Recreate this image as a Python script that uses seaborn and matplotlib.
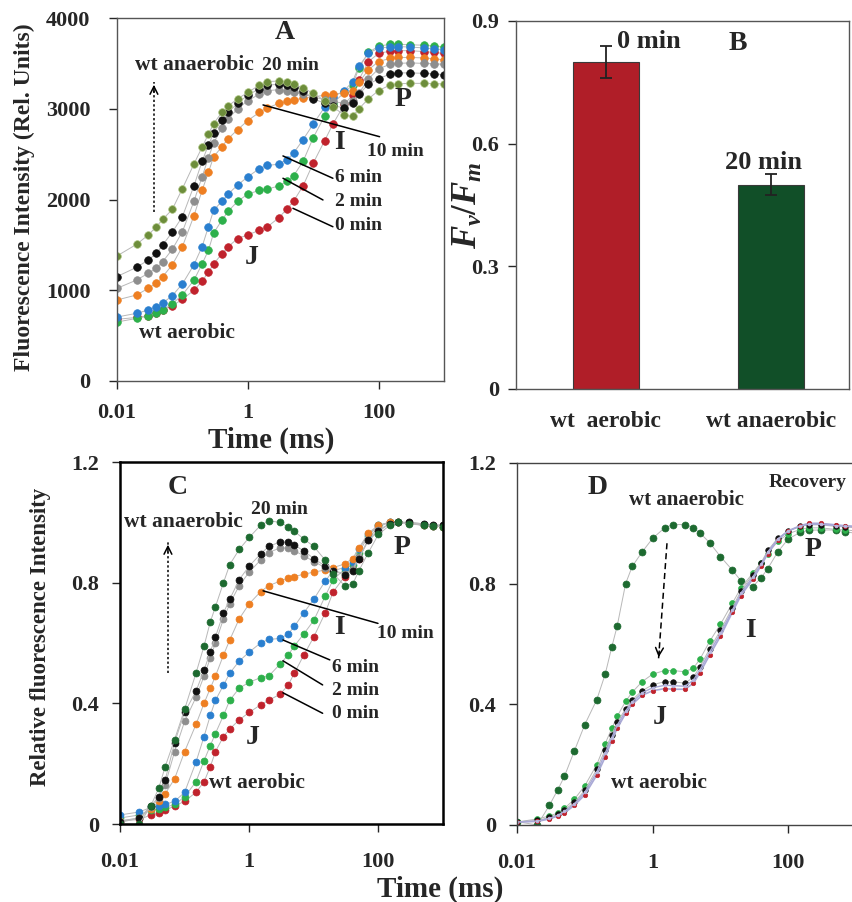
import matplotlib
matplotlib.use('Agg')
import matplotlib.pyplot as plt
import seaborn as sns

sns.set_style('ticks')
plt.rcParams['font.family'] = ['Liberation Serif', 'DejaVu Serif']
plt.rcParams['font.weight'] = 'bold'
plt.rcParams['mathtext.fontset'] = 'custom'
plt.rcParams['mathtext.it'] = 'Liberation Serif:italic:bold'
plt.rcParams['mathtext.rm'] = 'Liberation Serif:bold'

# time points (ms)
time_ms = [0.01, 0.02, 0.03, 0.04, 0.05, 0.07, 0.1, 0.15, 0.2, 0.25, 0.3, 0.4, 0.5, 0.7,
           1, 1.5, 2, 3, 4, 5, 7, 10, 15, 20, 30, 40, 50, 70, 100, 150, 200, 300, 500, 700, 1000]

# panel A - raw fluorescence (rel. units)
a_olive = [1378, 1507, 1609, 1700, 1782, 1890, 2120, 2390, 2577, 2720, 2834, 2960, 3030, 3110, 3180, 3260,
           3300, 3305, 3290, 3270, 3230, 3170, 3090, 3020, 2930, 2915, 3000, 3110, 3200, 3262, 3275, 3280,
           3280, 3278, 3272]
a_black = [1151, 1253, 1333, 1407, 1499, 1640, 1811, 2150, 2420, 2600, 2730, 2880, 2960, 3060, 3150, 3220,
           3260, 3270, 3260, 3240, 3200, 3110, 3060, 3035, 3008, 3060, 3160, 3270, 3330, 3383, 3395, 3395,
           3390, 3385, 3375]
a_gray = [1021, 1113, 1187, 1242, 1315, 1450, 1645, 1980, 2250, 2460, 2620, 2790, 2890, 3000, 3090, 3160,
          3200, 3210, 3200, 3185, 3160, 3130, 3100, 3080, 3060, 3080, 3170, 3330, 3440, 3490, 3500, 3505,
          3500, 3495, 3490]
a_orange = [893, 948, 1021, 1077, 1150, 1280, 1480, 1820, 2100, 2300, 2470, 2580, 2670, 2770, 2870, 2960,
            3010, 3060, 3080, 3100, 3115, 3130, 3150, 3160, 3175, 3200, 3290, 3430, 3520, 3555, 3565, 3565,
            3560, 3550, 3540]
a_blue = [705, 746, 782, 819, 860, 940, 1070, 1280, 1480, 1700, 1880, 1980, 2060, 2160, 2250, 2340,
          2375, 2390, 2440, 2510, 2660, 2830, 3020, 3130, 3200, 3300, 3470, 3610, 3670, 3680, 3685, 3680,
          3670, 3660, 3650]
a_green = [650, 690, 715, 750, 780, 850, 950, 1110, 1290, 1440, 1630, 1770, 1870, 1980, 2060, 2100,
           2115, 2150, 2200, 2260, 2420, 2680, 2920, 3060, 3180, 3260, 3450, 3620, 3690, 3710, 3710, 3705,
           3700, 3690, 3680]
a_red = [680, 700, 720, 750, 780, 830, 900, 1000, 1100, 1200, 1290, 1400, 1480, 1570, 1610, 1660,
         1700, 1800, 1900, 1980, 2150, 2400, 2650, 2830, 3050, 3150, 3320, 3520, 3610, 3635, 3640, 3640,
         3630, 3620, 3610]

# panel B - Fv/Fm
conditions = ['wt  aerobic', 'wt anaerobic']
fvfm = [0.80, 0.50]
fvfm_err = [0.04, 0.026]

# panel C - normalised transients
c_dkgreen = [0.0, 0.0, 0.06, 0.12, 0.19, 0.28, 0.38, 0.50, 0.59, 0.67, 0.72, 0.80, 0.86, 0.91, 0.95, 0.99,
             1.005, 1.0, 0.985, 0.97, 0.945, 0.92, 0.875, 0.83, 0.79, 0.795, 0.84, 0.90, 0.96, 0.99, 1.0,
             0.995, 0.99, 0.988, 0.985]
c_black = [0.005, 0.02, 0.06, 0.09, 0.145, 0.27, 0.37, 0.44, 0.51, 0.57, 0.62, 0.70, 0.745, 0.81, 0.855,
           0.895, 0.92, 0.935, 0.935, 0.925, 0.905, 0.88, 0.855, 0.84, 0.825, 0.84, 0.88, 0.94, 0.97, 0.995,
           1.0, 1.0, 0.995, 0.992, 0.99]
c_gray = [0.01, 0.02, 0.055, 0.085, 0.13, 0.24, 0.34, 0.42, 0.49, 0.55, 0.60, 0.68, 0.73, 0.79, 0.835,
          0.875, 0.90, 0.915, 0.915, 0.905, 0.89, 0.87, 0.85, 0.84, 0.83, 0.845, 0.885, 0.94, 0.975, 0.995,
          1.0, 1.0, 0.995, 0.992, 0.99]
c_orange = [0.01, 0.02, 0.05, 0.075, 0.10, 0.15, 0.24, 0.33, 0.40, 0.45, 0.49, 0.56, 0.61, 0.68, 0.73,
            0.77, 0.79, 0.805, 0.815, 0.82, 0.828, 0.835, 0.842, 0.85, 0.862, 0.88, 0.915, 0.965, 0.99, 1.0,
            1.0, 0.998, 0.99, 0.988, 0.985]
c_blue = [0.03, 0.04, 0.055, 0.06, 0.065, 0.075, 0.105, 0.205, 0.29, 0.36, 0.41, 0.46, 0.50, 0.54, 0.57,
          0.60, 0.612, 0.615, 0.63, 0.655, 0.70, 0.745, 0.805, 0.84, 0.85, 0.87, 0.91, 0.96, 0.99, 1.0, 1.0,
          0.998, 0.99, 0.988, 0.985]
c_green = [0.02, 0.03, 0.045, 0.05, 0.055, 0.065, 0.09, 0.14, 0.21, 0.26, 0.30, 0.36, 0.41, 0.45, 0.47,
           0.485, 0.49, 0.53, 0.56, 0.59, 0.63, 0.675, 0.755, 0.81, 0.845, 0.86, 0.90, 0.955, 0.99, 1.0, 1.0,
           0.998, 0.99, 0.988, 0.985]
c_red = [0.01, 0.015, 0.03, 0.035, 0.045, 0.06, 0.075, 0.105, 0.14, 0.19, 0.24, 0.29, 0.315, 0.345, 0.37,
         0.395, 0.41, 0.43, 0.46, 0.50, 0.56, 0.62, 0.70, 0.77, 0.82, 0.845, 0.88, 0.945, 0.985, 1.0, 1.0,
         0.998, 0.99, 0.988, 0.985]

# panel D - recovery
d_dkgreen = [0.011, 0.0, 0.065, 0.117, 0.161, 0.245, 0.333, 0.415, 0.50, 0.59, 0.659, 0.80, 0.857, 0.905,
             0.95, 0.985, 0.996, 0.996, 0.985, 0.968, 0.935, 0.89, 0.845, 0.81, 0.79, 0.82, 0.85, 0.905,
             0.948, 0.97, 0.977, 0.978, 0.978, 0.972, 0.967]
d_green = [0.01, 0.02, 0.03, 0.04, 0.055, 0.085, 0.13, 0.20, 0.27, 0.32, 0.36, 0.41, 0.44, 0.475, 0.50,
           0.512, 0.512, 0.508, 0.52, 0.55, 0.61, 0.665, 0.735, 0.785, 0.835, 0.87, 0.90, 0.94, 0.965, 0.98,
           0.985, 0.985, 0.98, 0.978, 0.975]
d_black = [0.01, 0.015, 0.025, 0.035, 0.05, 0.075, 0.115, 0.185, 0.25, 0.30, 0.34, 0.385, 0.415, 0.445,
           0.465, 0.475, 0.475, 0.47, 0.49, 0.525, 0.585, 0.645, 0.72, 0.775, 0.83, 0.87, 0.91, 0.95, 0.975,
           0.99, 0.995, 0.995, 0.99, 0.988, 0.985]
d_lav = [0.01, 0.013, 0.022, 0.032, 0.045, 0.07, 0.108, 0.175, 0.238, 0.29, 0.33, 0.378, 0.408, 0.438,
         0.455, 0.463, 0.462, 0.46, 0.48, 0.515, 0.575, 0.635, 0.712, 0.768, 0.822, 0.865, 0.905, 0.948,
         0.975, 0.99, 0.997, 0.997, 0.992, 0.99, 0.988]
d_red = [0.01, 0.012, 0.02, 0.03, 0.04, 0.065, 0.10, 0.165, 0.225, 0.28, 0.32, 0.37, 0.40, 0.43, 0.445,
         0.452, 0.45, 0.45, 0.47, 0.505, 0.565, 0.625, 0.705, 0.76, 0.815, 0.86, 0.90, 0.945, 0.975, 0.992,
         1.0, 1.0, 0.995, 0.992, 0.99]

OLIVE, BLACK, GRAY, ORANGE = '#6d8d3b', '#111111', '#8e8e8e', '#ee7f22'
BLUE, GREEN, RED, DKGREEN = '#2a7fcf', '#2db04b', '#c0222c', '#1d6a30'


def curve(ax, y, col, ms=5.5, edge=None, line='#b8b8b8', lw=0.7):
    sns.lineplot(x=time_ms, y=y, ax=ax, color=line, linewidth=lw, marker='o', markersize=ms,
                 markerfacecolor=col, markeredgecolor=edge or col, markeredgewidth=0.5)


def log_axis(ax, ymax, yticks, ylabels, ypad, xpad=14):
    ax.set_xscale('log')
    ax.set_xlim(0.01, 1000)
    ax.set_ylim(0, ymax)
    ax.set_xticks([0.01, 1, 100])
    ax.set_xticklabels(['0.01', '1', '100'])
    ax.minorticks_off()
    ax.set_yticks(yticks)
    ax.set_yticklabels(ylabels)
    ax.tick_params(axis='x', direction='out', length=6, width=1, labelsize=16, pad=xpad)
    ax.tick_params(axis='y', direction='out', length=6, width=1, labelsize=16, pad=ypad)
    ax.set_xlabel('')
    ax.set_ylabel('')


def leader(ax, p0, p1):
    ax.plot([p0[0], p1[0]], [p0[1], p1[1]], color='k', lw=1.1)


def dotted_arrow(ax, x0, y0, x1, y1, ls=(0, (1.5, 1.5))):
    ax.plot([x0, x1], [y0, y1], color='k', lw=1.1, ls=ls)
    ax.annotate('', xy=(x1, y1), xytext=(x0 + (x1 - x0) * 0.9, y0 + (y1 - y0) * 0.9),
                arrowprops=dict(arrowstyle='->', color='k', lw=1.1, mutation_scale=14))


fig = plt.figure(figsize=(8.52, 9.02), dpi=100)

# ---------------- A ----------------
ax = fig.add_axes([117 / 852, 1 - 381 / 902, 327 / 852, 363 / 902])
for y, c in [(a_red, RED), (a_green, GREEN), (a_blue, BLUE), (a_orange, ORANGE),
             (a_gray, GRAY), (a_black, BLACK)]:
    curve(ax, y, c)
curve(ax, a_olive, OLIVE, edge='#a9c27c')
log_axis(ax, 4000, [0, 1000, 2000, 3000, 4000], ['0', '1000', '2000', '3000', '4000'], 13, xpad=10)
for s in ax.spines.values():
    s.set_color('#555555')
    s.set_linewidth(1.0)
ax.text(3.67, 3835, 'A', fontsize=20, ha='center', va='center')
ax.text(0.019, 3480, 'wt anaerobic', fontsize=15.5, ha='left', va='center')
ax.text(1.63, 3480, '20 min', fontsize=14, ha='left', va='center')
ax.text(0.117, 529, 'wt aerobic', fontsize=15.5, ha='center', va='center')
ax.text(1.15, 1366, 'J', fontsize=20, ha='center', va='center')
ax.text(25.2, 2623, 'I', fontsize=20, ha='center', va='center')
ax.text(232, 3097, 'P', fontsize=20, ha='center', va='center')
leader(ax, (1.71, 3042), (103.5, 2692))
ax.text(66, 2524, '10 min', fontsize=14, ha='left', va='center')
leader(ax, (3.45, 2480), (20.0, 2234))
ax.text(21.4, 2237, '6 min', fontsize=14, ha='left', va='center')
leader(ax, (3.45, 2234), (14.1, 1995))
ax.text(21.4, 1973, '2 min', fontsize=14, ha='left', va='center')
leader(ax, (4.9, 1903), (20.0, 1700))
ax.text(21.4, 1708, '0 min', fontsize=14, ha='left', va='center')
dotted_arrow(ax, 0.0367, 1862, 0.0367, 3295)
fig.text(24 / 852, 1 - 197 / 902, 'Fluorescence Intensity (Rel. Units)', rotation=90,
         fontsize=17, ha='center', va='center')
fig.text(271 / 852, 1 - 440 / 902, 'Time (ms)', fontsize=21, ha='center', va='center')

# ---------------- B ----------------
ax = fig.add_axes([516 / 852, 1 - 389 / 902, 333 / 852, 368 / 902])
sns.barplot(x=conditions, y=fvfm, hue=conditions, palette=['#b01e28', '#114f28'], legend=False,
            width=0.4, edgecolor='#3a3a3a', linewidth=0.8, errorbar=None, saturation=1, ax=ax)
ax.errorbar([0, 1], fvfm, yerr=fvfm_err, fmt='none', ecolor='#222222', elinewidth=1.3,
            capsize=4, capthick=1.3)
ax.set_xlim(-0.545, 1.473)
ax.set_ylim(0, 0.9)
ax.set_yticks([0, 0.3, 0.6, 0.9])
ax.set_yticklabels(['0', '0.3', '0.6', '0.9'])
ax.tick_params(axis='y', direction='out', length=6, width=1, labelsize=16, pad=6)
ax.tick_params(axis='x', length=0, labelsize=17, pad=16)
for s in ax.spines.values():
    s.set_color('#555555')
    s.set_linewidth(1.0)
ax.set_xlabel('')
ax.set_ylabel('')
ax.text(0.067, 0.849, '0 min', fontsize=19, ha='left', va='center')
ax.text(0.952, 0.555, '20 min', fontsize=19, ha='center', va='center')
ax.text(0.80, 0.846, 'B', fontsize=20, ha='center', va='center')
fig.text(468 / 852, 1 - 205 / 902, r'$F_v/F_m$', rotation=90, fontsize=25, ha='center', va='center')

# ---------------- C ----------------
ax = fig.add_axes([120 / 852, 1 - 824 / 902, 323 / 852, 362 / 902])
for y, c in [(c_red, RED), (c_green, GREEN), (c_blue, BLUE), (c_orange, ORANGE),
             (c_gray, GRAY), (c_black, BLACK), (c_dkgreen, DKGREEN)]:
    curve(ax, y, c, ms=5.0)
log_axis(ax, 1.2, [0, 0.4, 0.8, 1.2], ['0', '0.4', '0.8', '1.2'], 9)
for s in ax.spines.values():
    s.set_color('k')
    s.set_linewidth(1.8)
ax.text(0.0787, 1.117, 'C', fontsize=20, ha='center', va='center')
ax.text(2.98, 1.041, '20 min', fontsize=14, ha='center', va='center')
ax.text(0.0115, 1.001, 'wt anaerobic', fontsize=15.5, ha='left', va='center')
dotted_arrow(ax, 0.0552, 0.50, 0.0552, 0.935)
ax.text(1.30, 0.136, 'wt aerobic', fontsize=15.5, ha='center', va='center')
ax.text(1.13, 0.288, 'J', fontsize=20, ha='center', va='center')
ax.text(25.0, 0.653, 'I', fontsize=20, ha='center', va='center')
ax.text(235, 0.918, 'P', fontsize=20, ha='center', va='center')
leader(ax, (1.64, 0.773), (98.5, 0.665))
ax.text(93.7, 0.633, '10 min', fontsize=14, ha='left', va='center')
leader(ax, (3.33, 0.61), (17.7, 0.544))
ax.text(18.9, 0.52, '6 min', fontsize=14, ha='left', va='center')
leader(ax, (3.33, 0.541), (13.7, 0.461))
ax.text(18.9, 0.444, '2 min', fontsize=14, ha='left', va='center')
leader(ax, (3.33, 0.435), (13.7, 0.367))
ax.text(18.9, 0.365, '0 min', fontsize=14, ha='left', va='center')
fig.text(41 / 852, 1 - 637 / 902, 'Relative fluorescence Intensity', rotation=90,
         fontsize=16.5, ha='center', va='center')

# ---------------- D ----------------
ax = fig.add_axes([517 / 852, 1 - 825 / 902, 339 / 852, 362 / 902])
curve(ax, d_dkgreen, DKGREEN, ms=5.0)
curve(ax, d_green, GREEN, ms=4.2)
curve(ax, d_black, BLACK, ms=4.0)
curve(ax, d_red, RED, ms=3.2, line='#a9a9d6', lw=1.2)
curve(ax, d_lav, '#b9b9e0', ms=2.0, line='#a9a9d6', lw=1.0)
log_axis(ax, 1.2, [0, 0.4, 0.8, 1.2], ['0', '0.4', '0.8', '1.2'], 9)
for s in ax.spines.values():
    s.set_color('#444444')
    s.set_linewidth(1.0)
ax.text(0.152, 1.12, 'D', fontsize=20, ha='center', va='center')
ax.text(3.12, 1.077, 'wt anaerobic', fontsize=15, ha='center', va='center')
ax.text(50.9, 1.134, 'Recovery', fontsize=14, ha='left', va='center')
ax.text(1.29, 0.355, 'J', fontsize=20, ha='center', va='center')
ax.text(27.8, 0.646, 'I', fontsize=20, ha='center', va='center')
ax.text(235, 0.912, 'P', fontsize=20, ha='center', va='center')
ax.text(1.25, 0.139, 'wt aerobic', fontsize=15.5, ha='center', va='center')
dotted_arrow(ax, 1.63, 0.934, 1.22, 0.547, ls=(0, (4, 2.5)))

fig.text(440 / 852, 1 - 889 / 902, 'Time (ms)', fontsize=21, ha='center', va='center')

fig.savefig('out.png', dpi=100)
